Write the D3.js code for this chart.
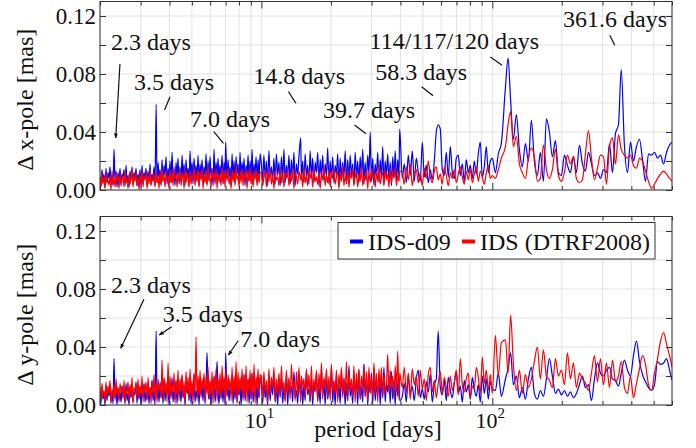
<!DOCTYPE html>
<html>
<head>
<meta charset="utf-8">
<script src="https://cdn.jsdelivr.net/npm/d3@7"></script>
<style>
  body { margin: 0; background: #fff; }
  svg text { font-family: "Liberation Serif", "DejaVu Serif", serif; fill: #111; }
</style>
</head>
<body>
<svg id="chart" width="696" height="448"></svg>
<script>
// period grid [days], shared by the four spectra
const periods = [
  // 2 - 10 days
  2.000, 2.020, 2.040, 2.061, 2.081, 2.102, 2.123, 2.145, 2.166, 2.188,
  2.210, 2.232, 2.255, 2.277, 2.300, 2.323, 2.347, 2.370, 2.394, 2.418,
  2.442, 2.467, 2.491, 2.516, 2.541, 2.567, 2.593, 2.619, 2.645, 2.672,
  2.698, 2.725, 2.753, 2.780, 2.808, 2.836, 2.865, 2.893, 2.922, 2.952,
  2.981, 3.011, 3.041, 3.072, 3.103, 3.134, 3.165, 3.197, 3.229, 3.261,
  3.294, 3.327, 3.360, 3.394, 3.428, 3.462, 3.500, 3.532, 3.568, 3.603,
  3.640, 3.676, 3.713, 3.750, 3.788, 3.826, 3.864, 3.903, 3.942, 3.981,
  4.021, 4.061, 4.102, 4.143, 4.185, 4.227, 4.269, 4.312, 4.355, 4.399,
  4.443, 4.488, 4.533, 4.578, 4.624, 4.670, 4.717, 4.764, 4.812, 4.860,
  4.909, 4.958, 5.008, 5.058, 5.109, 5.160, 5.212, 5.264, 5.317, 5.370,
  5.424, 5.478, 5.533, 5.589, 5.645, 5.701, 5.759, 5.816, 5.875, 5.934,
  5.993, 6.053, 6.114, 6.175, 6.237, 6.300, 6.363, 6.427, 6.491, 6.556,
  6.622, 6.688, 6.756, 6.823, 6.892, 6.961, 7.000, 7.101, 7.172, 7.244,
  7.317, 7.390, 7.464, 7.539, 7.615, 7.691, 7.768, 7.846, 7.925, 8.004,
  8.084, 8.165, 8.247, 8.330, 8.413, 8.498, 8.583, 8.669, 8.756, 8.843,
  8.932, 9.022, 9.112, 9.203, 9.296, 9.389, 9.483, 9.578, 9.674, 9.771,
  9.869,
  // 10 - 40 days
  10.00, 10.13, 10.25, 10.38, 10.51, 10.64, 10.78, 10.91, 11.05, 11.19,
  11.33, 11.47, 11.61, 11.76, 11.91, 12.06, 12.21, 12.36, 12.52, 12.67,
  12.83, 12.99, 13.16, 13.32, 13.49, 13.66, 13.83, 14.00, 14.18, 14.36,
  14.54, 14.80, 14.90, 15.09, 15.28, 15.47, 15.67, 15.86, 16.06, 16.26,
  16.47, 16.67, 16.88, 17.10, 17.31, 17.53, 17.75, 17.97, 18.20, 18.42,
  18.66, 18.89, 19.13, 19.37, 19.61, 19.86, 20.10, 20.36, 20.61, 20.87,
  21.13, 21.40, 21.67, 21.94, 22.21, 22.49, 22.77, 23.06, 23.35, 23.64,
  23.94, 24.24, 24.54, 24.85, 25.16, 25.48, 25.80, 26.12, 26.45, 26.78,
  27.12, 27.46, 27.80, 28.15, 28.51, 28.86, 29.23, 29.59, 29.96, 30.34,
  30.72, 31.11, 31.50, 31.89, 32.29, 32.70, 33.11, 33.52, 33.94, 34.37,
  34.80, 35.24, 35.68, 36.13, 36.58, 37.04, 37.51, 37.98, 38.45, 38.94,
  39.42, 39.70,
  // 40 - 100 days
  40.75, 41.57, 42.41, 43.26, 44.13, 45.02, 45.93, 46.86, 47.80, 48.76,
  49.75, 50.75, 51.77, 52.81, 53.88, 54.96, 56.07, 57.20, 58.30, 59.53,
  60.73, 61.95, 63.20, 64.47, 65.77, 67.10, 68.45, 69.83, 71.23, 72.67,
  74.13, 75.63, 77.15, 78.70, 80.29, 81.91, 83.56, 85.24, 86.96, 88.71,
  90.50, 92.33, 94.19, 96.08, 98.02, 100.0,
  // 100 - 600 days
  103.1, 106.2, 109.4, 114.0, 117.0, 120.0, 123.4, 127.1, 131.0, 134.9,
  139.1, 143.3, 147.6, 152.1, 156.7, 161.5, 166.4, 171.5, 176.7, 182.0,
  187.6, 193.3, 199.2, 205.2, 211.5, 217.9, 224.5, 231.3, 238.4, 245.6,
  253.1, 260.8, 268.7, 276.9, 285.3, 294.0, 302.9, 312.1, 321.6, 331.4,
  341.5, 351.8, 361.6, 373.5, 384.9, 396.6, 408.6, 421.1, 433.9, 447.1,
  460.7, 474.7, 489.1, 504.0, 519.4, 535.2, 551.4, 568.2, 585.5, 600.0
];

// amplitudes in µas (= 0.001 mas), one value per period
const xPoleD09 = [
  9, 3, 14, 6, 11, 2, 15, 5, 12, 8, 16, 4, 10, 3, 28, 7, 13, 2, 12, 6,
  15, 4, 11, 9, 14, 3, 17, 5, 10, 2, 13, 7, 16, 4, 12, 8, 15, 3, 11, 6,
  14, 2, 17, 5, 12, 9, 15, 3, 13, 6, 18, 4, 11, 7, 16, 3, 59, 5, 19, 8,
  14, 3, 21, 6, 17, 10, 23, 4, 15, 8, 20, 5, 26, 7, 13, 3, 19, 9, 22, 4,
  16, 6, 24, 8, 18, 3, 21, 10, 15, 5, 27, 7, 19, 4, 22, 9, 17, 6, 24, 3,
  18, 8, 21, 5, 16, 10, 25, 4, 20, 7, 23, 9, 15, 3, 28, 6, 19, 8, 22, 5,
  17, 10, 24, 4, 19, 7, 33, 6, 21, 9, 16, 3, 25, 8, 20, 5, 23, 11, 18, 4,
  26, 7, 19, 9, 22, 3, 17, 10, 24, 6, 20, 8, 28, 4, 18, 9, 23, 5, 21, 7,
  25,
  18, 5, 24, 8, 20, 3, 27, 9, 16, 6, 22, 4, 25, 10, 19, 3, 23, 7, 28, 5,
  17, 9, 24, 4, 21, 8, 26, 3, 18, 11, 23, 36, 7, 20, 5, 25, 9, 17, 4, 27,
  8, 22, 5, 19, 12, 26, 3, 21, 9, 24, 6, 18, 10, 29, 4, 20, 8, 23, 5, 17,
  11, 25, 3, 22, 7, 19, 9, 27, 4, 21, 6, 24, 10, 18, 3, 26, 8, 20, 5, 23,
  9, 28, 4, 19, 7, 24, 11, 40, 6, 22, 3, 18, 9, 26, 5, 21, 8, 30, 4, 20,
  10, 25, 6, 19, 3, 23, 8, 27, 5, 21, 9, 42,
  8, 18, 5, 24, 10, 27, 6, 22, 12, 6, 33, 9, 17, 5, 14, 7, 20, 40, 45, 42,
  14, 10, 26, 9, 30, 12, 8, 22, 24, 10, 18, 6, 21, 12, 17, 8, 20, 11, 25, 33,
  9, 16, 30, 12, 20, 22,
  12, 25, 32, 71, 91, 62, 35, 52, 28, 16, 32, 20, 48, 20, 10, 26, 6, 49, 40, 23,
  34, 12, 10, 24, 17, 12, 23, 12, 31, 18, 13, 26, 18, 10, 12, 8, 14, 12, 32, 12,
  39, 45, 83, 30, 12, 33, 20, 30, 35, 21, 6, 25, 24, 26, 22, 24, 18, 26, 31, 33
];
const xPoleDtrf = [
  8, 2, 11, 4, 9, 1, 12, 5, 7, 3, 10, 0, 13, 4, 8, 2, 11, 6, 9, 1,
  12, 3, 7, 10, 2, 13, 5, 8, 1, 11, 4, 9, 14, 2, 10, 6, 12, 3, 8, 0,
  11, 5, 13, 2, 9, 7, 12, 1, 10, 4, 14, 3, 8, 6, 11, 2, 13, 5, 9, 1,
  12, 4, 15, 6, 10, 2, 13, 7, 9, 1, 14, 5, 11, 3, 16, 8, 10, 2, 12, 6,
  14, 3, 9, 11, 1, 15, 5, 12, 7, 2, 13, 4, 10, 8, 16, 3, 11, 6, 14, 2,
  12, 7, 15, 1, 10, 5, 13, 3, 17, 6, 9, 2, 14, 8, 11, 4, 15, 1, 12, 7,
  10, 3, 16, 5, 13, 2, 11, 8, 15, 4, 9, 1, 14, 6, 12, 3, 17, 7, 10, 2,
  13, 5, 15, 3, 11, 8, 14, 1, 12, 6, 16, 4, 10, 2, 13, 7, 15, 3, 11, 5,
  12,
  12, 3, 9, 14, 2, 11, 6, 15, 4, 10, 1, 13, 7, 9, 3, 16, 5, 11, 2, 12,
  8, 14, 3, 10, 6, 15, 1, 12, 9, 4, 13, 7, 11, 2, 16, 5, 10, 3, 14, 8,
  12, 2, 15, 6, 9, 4, 13, 1, 11, 7, 16, 3, 10, 5, 14, 2, 12, 8, 15, 4,
  9, 13, 1, 11, 6, 17, 3, 10, 5, 14, 2, 12, 8, 15, 4, 9, 13, 2, 11, 6,
  16, 3, 10, 7, 14, 1, 12, 5, 15, 8, 11, 2, 13, 6, 17, 4, 9, 12, 3, 14,
  7, 11, 2, 15, 5, 12, 9, 16, 3, 10, 6, 13,
  12, 4, 16, 7, 18, 3, 11, 14, 5, 12, 3, 15, 8, 20, 9, 5, 13, 16, 7, 11,
  4, 16, 10, 3, 12, 8, 14, 5, 11, 16, 9, 4, 13, 7, 15, 5, 11, 16, 6, 13,
  9, 4, 12, 17, 8, 10,
  8, 14, 22, 30, 45, 54, 30, 37, 18, 12, 8, 22, 29, 23, 6, 8, 31, 14, 8, 14,
  28, 10, 6, 12, 24, 18, 23, 8, 5, 7, 25, 41, 22, 7, 15, 24, 23, 4, 30, 36,
  18, 38, 28, 24, 22, 24, 17, 15, 22, 20, 13, 6, 1, 4, 8, 11, 13, 11, 8, 6
];
const yPoleD09 = [
  7, 1, 12, 4, 9, 0, 13, 3, 10, 6, 14, 2, 8, 1, 32, 5, 11, 0, 12, 4,
  9, 2, 13, 6, 10, 1, 15, 3, 8, 0, 12, 5, 14, 2, 9, 7, 16, 1, 11, 4,
  13, 0, 10, 6, 15, 2, 9, 4, 14, 1, 12, 7, 17, 3, 10, 0, 51, 4, 13, 2,
  16, 5, 11, 1, 18, 3, 12, 8, 15, 0, 13, 6, 19, 2, 10, 4, 17, 1, 14, 7,
  11, 2, 20, 5, 13, 0, 16, 8, 12, 3, 18, 1, 14, 6, 21, 2, 10, 5, 17, 0,
  15, 7, 12, 3, 19, 1, 13, 36, 9, 4, 16, 0, 14, 6, 20, 2, 11, 30, 8, 1,
  17, 5, 13, 2, 18, 0, 36, 6, 15, 3, 12, 8, 20, 1, 14, 4, 19, 2, 11, 7,
  16, 0, 13, 5, 21, 3, 12, 9, 18, 1, 15, 4, 22, 2, 10, 6, 17, 0, 14, 5,
  19,
  14, 1, 18, 5, 11, 0, 20, 3, 15, 7, 22, 2, 13, 0, 17, 6, 19, 1, 12, 4,
  21, 0, 16, 8, 13, 2, 23, 5, 10, 1, 18, 6, 20, 0, 14, 3, 24, 7, 11, 2,
  19, 0, 15, 9, 22, 3, 13, 1, 25, 6, 17, 0, 20, 4, 12, 8, 26, 2, 16, 0,
  21, 5, 14, 1, 23, 7, 18, 0, 15, 3, 27, 6, 12, 1, 20, 9, 17, 0, 24, 4,
  13, 2, 28, 6, 19, 0, 16, 8, 22, 1, 25, 3, 14, 7, 21, 0, 18, 5, 26, 2,
  15, 9, 20, 1, 23, 4, 17, 0, 22, 6, 19, 3,
  6, 15, 2, 20, 8, 13, 3, 18, 24, 5, 11, 4, 16, 9, 21, 2, 14, 18, 51, 12,
  7, 17, 3, 19, 10, 5, 15, 22, 8, 13, 2, 17, 9, 14, 4, 19, 11, 6, 14, 2,
  20, 8, 18, 4, 16, 11,
  10, 22, 6, 18, 25, 36, 14, 20, 5, 12, 4, 18, 26, 8, 4, 10, 6, 18, 32, 20,
  8, 11, 7, 10, 6, 9, 5, 8, 14, 20, 12, 14, 3, 18, 29, 22, 20, 24, 26, 18,
  17, 13, 22, 31, 24, 20, 34, 44, 30, 21, 16, 12, 10, 14, 30, 28, 29, 32, 24, 17
];
const yPoleDtrf = [
  12, 3, 15, 6, 10, 2, 16, 5, 13, 8, 17, 1, 11, 6, 14, 3, 18, 7, 12, 2,
  15, 9, 13, 4, 17, 2, 11, 8, 16, 3, 14, 6, 19, 1, 12, 10, 15, 4, 18, 5,
  13, 7, 20, 2, 14, 9, 16, 3, 19, 6, 12, 1, 17, 8, 21, 4, 15, 2, 18, 10,
  14, 5, 31, 3, 19, 8, 16, 2, 29, 6, 20, 4, 15, 9, 22, 1, 17, 7, 24, 3,
  18, 10, 21, 5, 16, 2, 23, 8, 19, 4, 25, 6, 17, 1, 22, 9, 47, 3, 20, 7,
  24, 5, 18, 11, 22, 2, 19, 8, 26, 4, 17, 6, 23, 1, 20, 10, 25, 3, 18, 7,
  22, 4, 27, 9, 19, 2, 24, 6, 21, 11, 18, 3, 26, 5, 20, 8, 30, 1, 23, 7,
  19, 10, 25, 3, 21, 6, 27, 2, 18, 9, 24, 4, 22, 7, 28, 1, 20, 11, 25, 5,
  21,
  20, 4, 23, 9, 17, 2, 25, 7, 19, 12, 26, 3, 18, 8, 22, 5, 27, 10, 16, 2,
  24, 8, 19, 4, 28, 11, 17, 3, 23, 7, 26, 2, 20, 13, 18, 6, 25, 9, 21, 3,
  27, 5, 18, 10, 24, 2, 22, 8, 29, 4, 19, 12, 25, 6, 20, 3, 28, 9, 17, 7,
  24, 2, 21, 11, 26, 5, 19, 8, 30, 3, 23, 10, 18, 6, 27, 2, 22, 9, 25, 4,
  20, 12, 28, 6, 23, 3, 26, 9, 19, 5, 29, 8, 22, 2, 25, 11, 26, 6, 21, 9,
  14, 35, 8, 24, 12, 20, 5, 27, 10, 37, 4, 22,
  12, 26, 8, 22, 4, 25, 14, 20, 6, 24, 11, 18, 3, 21, 26, 9, 17, 5, 15, 23,
  8, 19, 12, 6, 20, 10, 16, 24, 7, 32, 14, 9, 18, 22, 5, 13, 11, 26, 19, 8,
  33, 15, 24, 10, 21, 8,
  48, 20, 43, 45, 22, 62, 28, 10, 24, 8, 21, 12, 18, 30, 40, 18, 38, 20, 17, 12,
  32, 20, 24, 14, 36, 18, 29, 12, 22, 18, 15, 10, 22, 34, 16, 32, 14, 29, 12, 31,
  16, 20, 30, 12, 8, 20, 5, 15, 25, 34, 28, 14, 10, 22, 32, 44, 50, 42, 34, 26
];

const seriesNames = ['IDS-d09', 'IDS (DTRF2008)'];
const yTicks = [0, 0.02, 0.04, 0.06, 0.08, 0.10, 0.12];
const yTickLabels = [0, 0.04, 0.08, 0.12];
const xGridTicks = [2, 3, 4, 5, 6, 7, 8, 9, 10, 20, 30, 40, 50, 60, 70, 80, 90, 100, 200, 300, 400, 500, 600];
const xMajorTicks = [10, 100];

// annotation layout in data units: text start (tx, ty), leader line (x1,y1) -> (x2,y2)
const xNotes = [
  { t: '2.3 days', tx: 2.23, ty: 0.0966, x1: 2.44, y1: 0.0869, x2: 2.34, y2: 0.0359, head: true },
  { t: '3.5 days', tx: 2.81, ty: 0.0690, x1: 4.02, y1: 0.0643, x2: 3.81, y2: 0.0552 },
  { t: '7.0 days', tx: 4.91, ty: 0.0434, x1: 6.22, y1: 0.0402, x2: 6.85, y2: 0.0322 },
  { t: '14.8 days', tx: 9.21, ty: 0.0731, x1: 13.1, y1: 0.0678, x2: 14.1, y2: 0.0598 },
  { t: '39.7 days', tx: 18.5, ty: 0.0497, x1: 25.3, y1: 0.0448, x2: 28.4, y2: 0.0388 },
  { t: '58.3 days', tx: 31.1, ty: 0.0759, x1: 49.4, y1: 0.0712, x2: 55.4, y2: 0.0650 },
  { t: '114/117/120 days', tx: 29.4, ty: 0.0972, x1: 98.1, y1: 0.0917, x2: 110.2, y2: 0.0860 },
  { t: '361.6 days', tx: 202.6, ty: 0.1124, x1: 322.6, y1: 0.1067, x2: 339, y2: 0.0998 }
];
const yNotes = [
  { t: '2.3 days', tx: 2.23, ty: 0.0774, x1: 3.10, y1: 0.0729, x2: 2.46, y2: 0.0391, head: true },
  { t: '3.5 days', tx: 3.74, ty: 0.0574, x1: 4.09, y1: 0.0540, x2: 3.61, y2: 0.0483, head: true },
  { t: '7.0 days', tx: 8.09, ty: 0.0398, x1: 7.93, y1: 0.0443, x2: 7.20, y2: 0.0345, head: true }
];

const FONT = '"Liberation Serif", "DejaVu Serif", serif';
const colors = { d09: '#0000ff', dtrf: '#ff0000', grid: '#e2e2e2', frame: '#333333' };

const svg = d3.select('#chart');
const x = d3.scaleLog().domain([2, 600]).range([100, 672]);

svg.append('defs').append('marker')
  .attr('id', 'head')
  .attr('viewBox', '0 0 10 10')
  .attr('refX', 9).attr('refY', 5)
  .attr('markerWidth', 5).attr('markerHeight', 5)
  .attr('markerUnits', 'userSpaceOnUse')
  .attr('orient', 'auto')
  .append('path').attr('d', 'M0,1 L10,5 L0,9 Z').attr('fill', '#111');

function drawPanel(id, top, bottom, d09, dtrf, yLabel, notes, withXLabels) {
  const y = d3.scaleLinear().domain([0, 0.13]).range([bottom, top]);
  const g = svg.append('g');

  // grid
  g.append('g').selectAll('line').data(yTicks).join('line')
    .attr('x1', x.range()[0]).attr('x2', x.range()[1])
    .attr('y1', d => y(d)).attr('y2', d => y(d))
    .attr('stroke', colors.grid).attr('stroke-width', 1);
  g.append('g').selectAll('line').data(xGridTicks).join('line')
    .attr('x1', d => x(d)).attr('x2', d => x(d))
    .attr('y1', top).attr('y2', bottom)
    .attr('stroke', colors.grid).attr('stroke-width', 1);

  // spectra
  svg.append('clipPath').attr('id', 'clip' + id)
    .append('rect').attr('x', x.range()[0]).attr('y', top)
    .attr('width', x.range()[1] - x.range()[0]).attr('height', bottom - top);

  const line = d3.line()
    .defined(d => d[1] != null)
    .x(d => x(d[0])).y(d => y(d[1] / 1000))
    .curve(d3.curveMonotoneX);

  [[d09, colors.d09], [dtrf, colors.dtrf]].forEach(([vals, c]) => {
    g.append('path')
      .datum(periods.map((p, i) => [p, vals[i]]))
      .attr('clip-path', `url(#clip${id})`)
      .attr('fill', 'none')
      .attr('stroke', c)
      .attr('stroke-width', 1.2)
      .attr('stroke-linejoin', 'round')
      .attr('d', line);
  });

  // axes with inward ticks
  const fmt = d3.format('.2f');
  const left = g.append('g').attr('transform', `translate(${x.range()[0]},0)`)
    .call(d3.axisLeft(y).tickValues(yTicks).tickSize(-6).tickPadding(4)
      .tickFormat(d => yTickLabels.some(v => Math.abs(v - d) < 1e-9) ? fmt(d) : ''));
  left.selectAll('text').style('font-size', '23px').style('font-family', FONT).attr('fill', '#111');
  g.append('g').attr('transform', `translate(${x.range()[1]},0)`)
    .call(d3.axisRight(y).tickValues(yTicks).tickSize(-6).tickFormat(''));

  [[d3.axisTop, top], [d3.axisBottom, bottom]].forEach(([ax, pos]) => {
    g.append('g').attr('transform', `translate(0,${pos})`)
      .call(ax(x).tickValues(xGridTicks.filter(v => !xMajorTicks.includes(v))).tickSize(-4).tickFormat(''));
    g.append('g').attr('transform', `translate(0,${pos})`)
      .call(ax(x).tickValues(xMajorTicks).tickSize(-7).tickFormat(''));
  });
  g.selectAll('.domain').remove();
  g.selectAll('.tick line').attr('stroke', colors.frame);

  g.append('rect')
    .attr('x', x.range()[0]).attr('y', top)
    .attr('width', x.range()[1] - x.range()[0]).attr('height', bottom - top)
    .attr('fill', 'none').attr('stroke', colors.frame).attr('stroke-width', 1);

  if (withXLabels) {
    xMajorTicks.forEach(v => {
      const t = g.append('text')
        .attr('x', x(v) - 2).attr('y', bottom + 23)
        .attr('text-anchor', 'middle')
        .style('font-family', FONT)
        .style('font-size', '22px');
      t.append('tspan').text('10');
      t.append('tspan').attr('dy', -10).style('font-size', '15px').text(Math.round(Math.log10(v)));
    });
  }

  // y label
  g.append('text')
    .attr('transform', `translate(33,${(top + bottom) / 2 + 4}) rotate(-90)`)
    .attr('text-anchor', 'middle')
    .style('font-family', FONT)
    .style('font-size', '24px')
    .text(yLabel);

  // annotations
  notes.forEach(n => {
    const l = g.append('line')
      .attr('x1', x(n.x1)).attr('y1', y(n.y1))
      .attr('x2', x(n.x2)).attr('y2', y(n.y2))
      .attr('stroke', '#111').attr('stroke-width', 1.2);
    if (n.head) l.attr('marker-end', 'url(#head)');
    g.append('text')
      .attr('x', x(n.tx)).attr('y', y(n.ty))
      .style('font-family', FONT)
      .style('font-size', '24px')
      .text(n.t);
  });

  return y;
}

drawPanel('x', 1.5, 190, xPoleD09, xPoleDtrf, 'Δ x-pole [mas]', xNotes, false);
drawPanel('y', 216.5, 405, yPoleD09, yPoleDtrf, 'Δ y-pole [mas]', yNotes, true);

// x label
svg.append('text')
  .attr('x', 378).attr('y', 437)
  .attr('text-anchor', 'middle')
  .style('font-family', FONT)
  .style('font-size', '24px')
  .text('period [days]');

// legend
const legend = svg.append('g').attr('transform', 'translate(338,222.5)');
legend.append('rect')
  .attr('width', 317).attr('height', 36.5)
  .attr('fill', '#fff').attr('stroke', colors.frame).attr('stroke-width', 1);
const legendX = [12, 124];
[colors.d09, colors.dtrf].forEach((c, i) => {
  legend.append('line')
    .attr('x1', legendX[i]).attr('x2', legendX[i] + 13)
    .attr('y1', 19).attr('y2', 19)
    .attr('stroke', c).attr('stroke-width', 4);
  legend.append('text')
    .attr('x', legendX[i] + 18).attr('y', 27)
    .style('font-family', FONT)
    .style('font-size', '24px')
    .text(seriesNames[i]);
});
</script>
</body>
</html>
